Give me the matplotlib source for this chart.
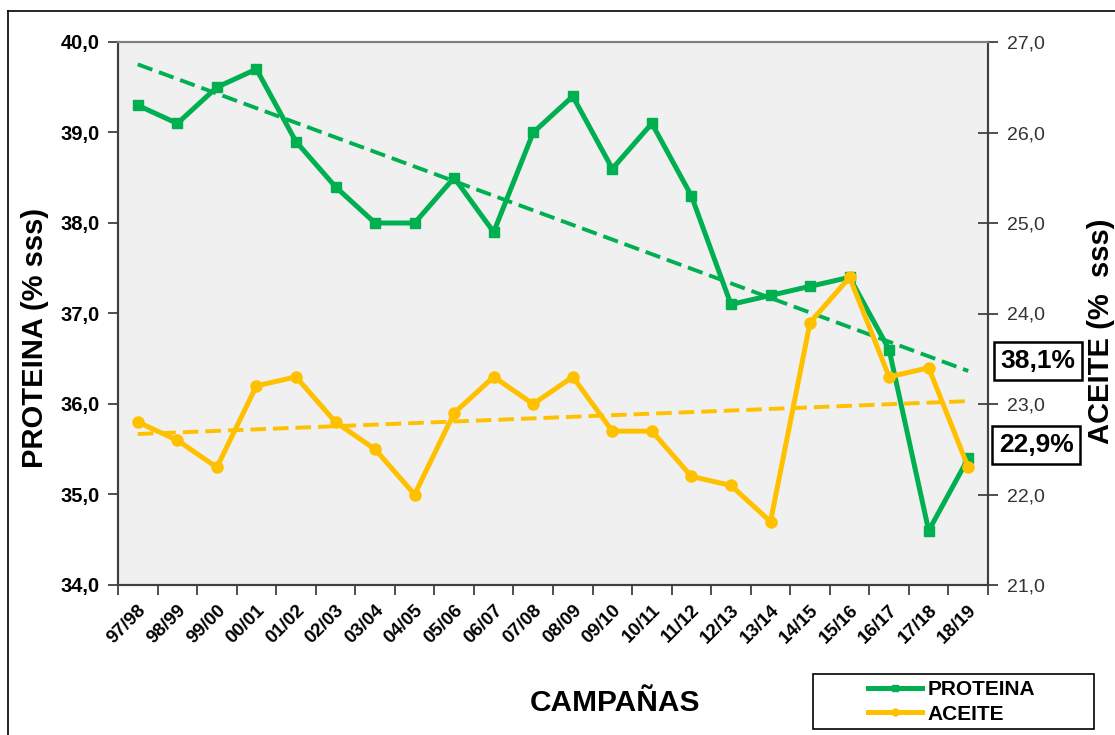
import numpy as np
import matplotlib
matplotlib.use("Agg")
import matplotlib.pyplot as plt
from matplotlib.ticker import FuncFormatter, FixedLocator
from matplotlib.lines import Line2D
from matplotlib.transforms import ScaledTranslation

plt.rcParams["font.family"] = ["Liberation Sans", "DejaVu Sans"]

campanas = ["97/98", "98/99", "99/00", "00/01", "01/02", "02/03", "03/04", "04/05",
            "05/06", "06/07", "07/08", "08/09", "09/10", "10/11", "11/12", "12/13",
            "13/14", "14/15", "15/16", "16/17", "17/18", "18/19"]
proteina = [39.3, 39.1, 39.5, 39.7, 38.9, 38.4, 38.0, 38.0, 38.5, 37.9, 39.0,
            39.4, 38.6, 39.1, 38.3, 37.1, 37.2, 37.3, 37.4, 36.6, 34.6, 35.4]
aceite = [22.8, 22.6, 22.3, 23.2, 23.3, 22.8, 22.5, 22.0, 22.9, 23.3, 23.0,
          23.3, 22.7, 22.7, 22.2, 22.1, 21.7, 23.9, 24.4, 23.3, 23.4, 22.3]
media_prot = "38,1%"
media_aceite = "22,9%"

GREEN = "#00B050"
YELLOW = "#FFC000"


def coma(v, pos=None):
    return f"{v:.1f}".replace(".", ",")


fig = plt.figure(figsize=(11.15, 7.35), dpi=100)
ax = fig.add_axes([118 / 1115, 1 - 585 / 735, 870 / 1115, 543 / 735])
ax2 = ax.twinx()
ax.set_facecolor("#F0F0F0")

x = np.arange(len(campanas))

# series
ax.plot(x, proteina, color=GREEN, lw=3.6, marker="s", ms=7, zorder=3)
ax2.plot(x, aceite, color=YELLOW, lw=3.6, marker="o", ms=8, zorder=3)

# linear trends
tp = np.polyfit(x, proteina, 1)
ta = np.polyfit(x, aceite, 1)
ax.plot(x, np.polyval(tp, x), color=GREEN, lw=2.8, ls=(0, (4, 1.8)), zorder=2)
ax2.plot(x, np.polyval(ta, x), color=YELLOW, lw=2.8, ls=(0, (4, 1.8)), zorder=2)

ax.set_xlim(-0.5, len(campanas) - 0.5)
ax.set_ylim(34, 40)
ax2.set_ylim(21, 27)
ax.set_yticks(np.arange(34, 40.1, 1))
ax2.set_yticks(np.arange(21, 27.1, 1))
ax.yaxis.set_major_formatter(FuncFormatter(coma))
ax2.yaxis.set_major_formatter(FuncFormatter(coma))

# x ticks at category boundaries, labels at centres
ax.xaxis.set_major_locator(FixedLocator(np.arange(-0.5, len(campanas), 1)))
ax.xaxis.set_minor_locator(FixedLocator(x))
ax.set_xticklabels([""] * (len(campanas) + 1))
ax.set_xticklabels(campanas, minor=True, rotation=45, ha="right",
                   rotation_mode="anchor", fontsize=13.5, fontweight="bold")
shift = ScaledTranslation(-3 / 100, 0, fig.dpi_scale_trans)
for t in ax.get_xticklabels(minor=True):
    t.set_transform(t.get_transform() + shift)
ax.tick_params(axis="x", which="major", length=7, width=1.3, color="#404040")
ax.tick_params(axis="x", which="minor", length=0, pad=12)

ax.tick_params(axis="y", length=7, width=1.3, color="#404040",
               labelsize=14.5, pad=6)
for t in ax.get_yticklabels():
    t.set_fontweight("bold")
ax2.tick_params(axis="y", direction="inout", length=14, width=1.3,
                color="#404040", labelsize=14, labelcolor="#333333", pad=7)

for s in ["left", "bottom", "right"]:
    ax.spines[s].set_color("#404040")
    ax.spines[s].set_linewidth(1.5)
    ax2.spines[s].set_color("#404040")
    ax2.spines[s].set_linewidth(1.5)
ax.spines["top"].set_color("#808080")
ax2.spines["top"].set_color("#808080")
ax.spines["top"].set_linewidth(1.5)
ax2.spines["top"].set_linewidth(1.5)

# axis titles
fig.text(35 / 1115, 1 - 338 / 735, "PROTEINA (% sss)", rotation=90,
         ha="center", va="center", fontsize=21, fontweight="bold")
fig.text(1101 / 1115, 1 - 331 / 735, "ACEITE (%  sss)", rotation=90,
         ha="center", va="center", fontsize=21, fontweight="bold")
fig.text(615 / 1115, 1 - 703 / 735, "CAMPAÑAS", ha="center", va="center",
         fontsize=21.5, fontweight="bold")

# average boxes
box = dict(boxstyle="square,pad=0.25", fc="white", ec="black", lw=1.8)
fig.text(1038 / 1115, 1 - 361 / 735, media_prot, ha="center", va="center",
         fontsize=19, fontweight="bold", bbox=box)
fig.text(1036 / 1115, 1 - 445 / 735, media_aceite, ha="center", va="center",
         fontsize=19, fontweight="bold", bbox=box)

# legend
fig.patches.append(plt.Rectangle((813 / 1115, 1 - 729 / 735), 281 / 1115, 55 / 735,
                                 transform=fig.transFigure, fc="white",
                                 ec="black", lw=1.2))
handles = [Line2D([], [], color=GREEN, lw=3.6, marker="s", ms=5),
           Line2D([], [], color=YELLOW, lw=3.6, marker="o", ms=5)]
fig.legend(handles, ["PROTEINA", "ACEITE"], loc="center left",
           bbox_to_anchor=(868 / 1115, 1 - 702 / 735), frameon=False,
           prop={"size": 15, "weight": "bold"}, handlelength=2.6,
           handletextpad=0.25, labelspacing=0.25, borderpad=0,
           borderaxespad=0)

# outer frame (cut off right and bottom)
fig.add_artist(Line2D([8 / 1115, 8 / 1115], [0, 1 - 11 / 735],
                      transform=fig.transFigure, color="black", lw=1.2))
fig.add_artist(Line2D([8 / 1115, 1], [1 - 11 / 735, 1 - 11 / 735],
                      transform=fig.transFigure, color="black", lw=1.2))

fig.savefig("out.png", dpi=100)
